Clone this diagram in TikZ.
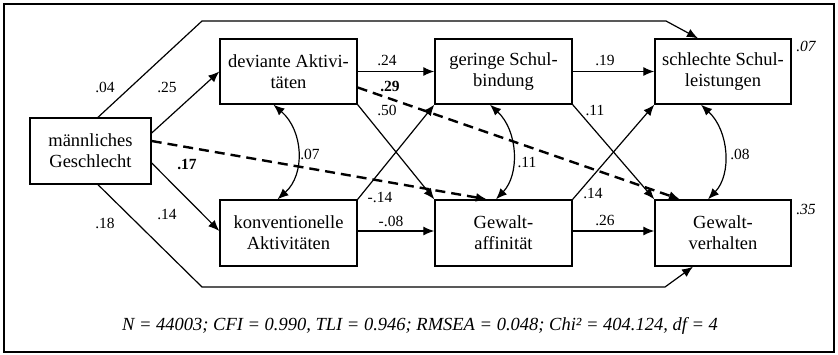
\documentclass[tikz,border=0pt]{standalone}
\usepackage{fontspec}
\setmainfont{Liberation Serif}
\usetikzlibrary{arrows.meta,calc}
\begin{document}
\begin{tikzpicture}[x=1pt,y=-1pt,
  var/.style={draw,line width=1.4pt,inner sep=0pt,align=center,
    minimum height=65pt,font=\fontsize{18.5}{21}\selectfont},
  path/.style={line width=1.2pt,-{Latex[length=11pt,width=9pt]}},
  dpath/.style={path,line width=2.4pt,dash pattern=on 10pt off 6pt},
  cov/.style={line width=1.2pt,{Latex[length=11pt,width=9pt]}-{Latex[length=11pt,width=9pt]}},
  coef/.style={font=\fontsize{15.5}{17}\selectfont,inner sep=1pt},
  bcoef/.style={coef,font=\fontsize{15.5}{17}\selectfont\bfseries},
  rsq/.style={coef,font=\fontsize{15.5}{17}\selectfont\itshape}]
\useasboundingbox (0,0) rectangle (838,354);
\draw[line width=1.6pt] (4,4) rectangle (834,352);

% variables
\node[var,minimum width=121pt,minimum height=66pt] (mG) at (90.5,151) {männliches\\Geschlecht};
\node[var,minimum width=137pt] (dA) at (288.5,71.5) {deviante Aktivi-\\täten};
\node[var,minimum width=137pt,minimum height=66pt] (kA) at (288.5,233) {konventionelle\\Aktivitäten};
\node[var,minimum width=137pt] (gS) at (503.5,71.5) {geringe Schul-\\bindung};
\node[var,minimum width=137pt,minimum height=66pt] (GA) at (503.5,233) {Gewalt-\\affinität};
\node[var,minimum width=136pt] (sS) at (723,71.5) {schlechte Schul-\\leistungen};
\node[var,minimum width=136pt,minimum height=66pt] (GV) at (723,233) {Gewalt-\\verhalten};

% bends of the direct paths around the model
\coordinate (t1) at (202,21);
\coordinate (t2) at (666,21);
\coordinate (b1) at (202,287);
\coordinate (b2) at (665,287);

\draw[path] ([xshift=7.5pt]mG.north) -- (t1) -- (t2) -- ([xshift=-25pt]sS.north);
\draw[path] ([xshift=7.5pt]mG.south) -- (b1) -- (b2) -- ([xshift=-30pt]GV.south);

% paths from gender
\draw[path] ([yshift=18pt]mG.east) -- (dA.west);
\draw[path] ([yshift=-12pt]mG.east) -- ([yshift=2pt]kA.west);
\draw[dpath] ([yshift=10pt]mG.east) -- ([xshift=-16.5pt]GA.north);

% paths from the activities
\draw[path] (dA.east) -- (gS.west);
\draw[path] (dA.south east) -- (GA.north west);
\draw[dpath] ([yshift=-16pt]dA.east) -- ([xshift=-43pt]GV.north);
\draw[path] (kA.north east) -- (gS.south west);
\draw[path] ([yshift=2pt]kA.east) -- ([yshift=2pt]GA.west);

% paths to the outcomes
\draw[path] (gS.east) -- (sS.west);
\draw[path] (gS.south east) -- (GV.north west);
\draw[path] (GA.north east) -- (sS.south west);
\draw[path] ([yshift=2pt]GA.east) -- ([yshift=2pt]GV.west);

% residual correlations
\draw[cov] ([xshift=-15pt]dA.south) .. controls +(30,26) and +(28,-25) .. ([xshift=-11pt]kA.north);
\draw[cov] ([xshift=-13.5pt]gS.south) .. controls +(28,26) and +(24,-25) .. ([xshift=-7.5pt]GA.north);
\draw[cov] ([xshift=-22pt]sS.south) .. controls +(28,26) and +(24,-25) .. ([xshift=-15pt]GV.north);

% coefficients
\node[coef] (c04) at (105,87) {.04};
\node[coef] (c25) at (167,87) {.25};
\node[bcoef] (c17) at (187,164) {.17};
\node[coef] (c14a) at (167,214) {.14};
\node[coef] (c18) at (105,223) {.18};
\node[coef] (c24) at (387,60) {.24};
\node[bcoef] (c29) at (390,86) {.29};
\node[coef] (c50) at (387,110) {.50};
\node[coef] (c07) at (310,154) {.07};
\node[coef] (cm14) at (380,197) {-.14};
\node[coef] (cm08) at (391,221) {-.08};
\node[coef] (c19) at (605,60) {.19};
\node[coef] (c11a) at (595,110) {.11};
\node[coef] (c11b) at (527,162) {.11};
\node[coef] (c14b) at (593,193) {.14};
\node[coef] (c26) at (605,220) {.26};
\node[coef] (c08) at (740,154) {.08};
\node[rsq] (r07) at (806,46) {.07};
\node[rsq] (r35) at (806,209) {.35};

% fit statistics
\node[font=\fontsize{18.5}{21}\selectfont\itshape] (fit) at (420,326)
  {N = 44003; CFI = 0.990, TLI = 0.946; RMSEA = 0.048; Chi² = 404.124, df = 4};
\end{tikzpicture}
\end{document}
